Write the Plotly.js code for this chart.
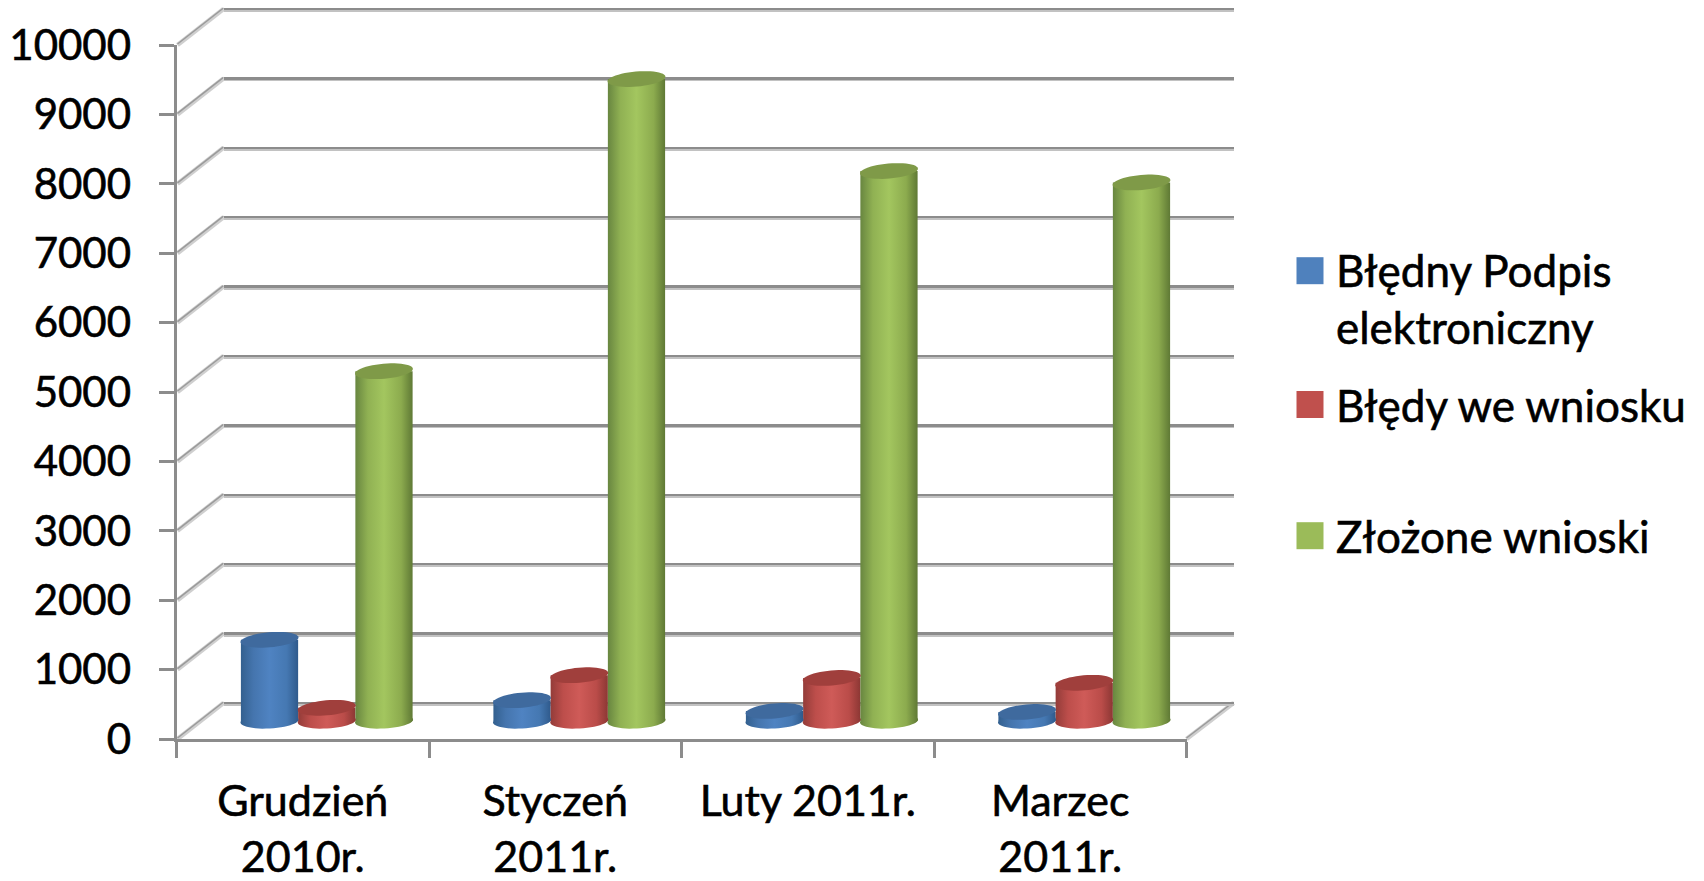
<!DOCTYPE html>
<html><head><meta charset="utf-8">
<script src="https://cdn.plot.ly/plotly-3.0.1.min.js"></script>
<style>html,body{margin:0;padding:0;background:#fff}#c{width:1704px;height:881px}
.xtick text,.ytick text,.legendtext{stroke:#000;stroke-width:0.6px}</style>
</head><body><div id="c"></div>
<script>
const categories = ['Grudzień<br>2010r.', 'Styczeń<br>2011r.', 'Luty 2011r.', 'Marzec<br>2011r.'];
const seriesNames = ['Błędny Podpis<br>elektroniczny', 'Błędy we wniosku', 'Złożone wnioski'];
const bledny = [1170, 300, 145, 130];
const bledy = [190, 660, 620, 550];
const zlozone = [5040, 9250, 7925, 7760];
const yTicks = [0,1000,2000,3000,4000,5000,6000,7000,8000,9000,10000];
const flatColors = ['#4f81bd', '#c0504d', '#9bbb59'];
const topColors = ['#3f6a9e', '#a03f3c', '#7f9a48'];
const gradients = [
  ['#33608f','#4575ae','#4f83c2','#4578b2','#2f5a8c'],
  ['#933c39','#bd4e4b','#cf5b58','#ba4c49','#8c3734'],
  ['#688640','#90b153','#a3c65f','#8cab4e','#5f7935']
];

const W = 1704, H = 881;
const fx0 = 176.5, fx1 = 1186.5, fy0 = 739, fy1 = 45;   // front plane
const dX = 47, dY = 36;                                  // depth of the box
const midX = 24, midY = 18;                              // depth of the cylinders
const px = x => x / W, py = y => (H - y) / H;
const perUnitY = (fy0 - fy1) / 10000, perUnitX = (fx1 - fx0) / categories.length;
const gap = 0.32, bw = (1 - gap) / 3;
const font = 'Lato, "Open Sans", sans-serif';
const series = [bledny, bledy, zlozone];
const pad = 100 * perUnitY;

const blank = (xa, ya, x) => ({x, y: x.map(() => 0), type: 'scatter', mode: 'none', showlegend: false, hoverinfo: 'skip', xaxis: xa, yaxis: ya});
const traces = [blank('x','y',categories), blank('x2','y2',[0,4]), blank('x3','y3',[0,4])];
series.forEach((vals, s) => traces.push({
  type: 'bar', name: seriesNames[s], x: categories.map((c, i) => i + 0.5), y: vals,
  xaxis: 'x4', yaxis: 'y4', marker: {color: flatColors[s], line: {width: 0}}, legendgroup: 'g' + s
}));

const shapes = [];
const line = (x0,y0,x1,y1,color,width) => shapes.push({type:'line',xref:'paper',yref:'paper',layer:'below',
  x0:px(x0),y0:py(y0),x1:px(x1),y1:py(y1),line:{color,width}});
yTicks.forEach(v => {
  const y = fy0 - v * perUnitY;
  line(fx0+1, y, fx0+dX, y-dY, '#cfcfcf', 4.5);
  line(fx0+1, y-1, fx0+dX, y-dY-1, '#9a9a9a', 1.5);
});
line(fx1, fy0, fx1+dX, fy0-dY, '#cfcfcf', 4.5);
line(fx1, fy0-1, fx1+dX, fy0-dY-1, '#9a9a9a', 1.5);

// elliptical ends of the cylinders, in the data units of the bar axes
function ellipse(cx, cy, tiltDeg) {
  const t = tiltDeg * Math.PI / 180;
  let d = '';
  for (let k = 0; k < 48; k++) {
    const u = k / 48 * 2 * Math.PI;
    const ex = Math.cos(u) * 29, ey = Math.sin(u) * 7.5;
    const rx = ex * Math.cos(t) - ey * Math.sin(t), ry = ex * Math.sin(t) + ey * Math.cos(t);
    d += (k ? 'L' : 'M') + (cx + rx / perUnitX).toFixed(4) + ',' + (cy + ry / perUnitY).toFixed(2);
  }
  return d + 'Z';
}
const ends = [];
series.forEach((vals, s) => vals.forEach((v, i) => {
  const cx = i + 0.5 + (s - 1) * bw;
  ends.push({idx: shapes.length, s});
  shapes.push({type:'path',xref:'x4',yref:'y4',layer:'above',path:ellipse(cx,0,3),fillcolor:flatColors[s],line:{width:0}});
  shapes.push({type:'path',xref:'x4',yref:'y4',layer:'above',path:ellipse(cx,v,5),fillcolor:topColors[s],line:{width:0}});
}));

const hiddenX = {range:[0,4],showgrid:false,zeroline:false,showticklabels:false,ticks:'',showline:false};
const layout = {
  width: W, height: H, margin: {l:0,r:0,t:0,b:0}, paper_bgcolor:'#fff', plot_bgcolor:'rgba(0,0,0,0)',
  showlegend: true, hovermode:false,
  barmode:'group', bargap:gap, bargroupgap:0,
  font:{family:font,color:'#000',size:44},
  xaxis:{type:'category',domain:[px(fx0),px(fx1)],anchor:'y',categoryorder:'array',categoryarray:categories,
    range:[-0.5,3.5],tickson:'boundaries',ticks:'outside',ticklen:16,tickwidth:3,tickcolor:'#8c8c8c',
    showline:true,linecolor:'#8c8c8c',linewidth:3,showgrid:false,zeroline:false,automargin:false,
    tickfont:{family:font,size:43,color:'#000'},ticklabelstandoff:22},
  yaxis:{domain:[py(fy0),py(fy1)],range:[0,10000],anchor:'x',tickmode:'array',tickvals:yTicks,ticktext:yTicks.map(String),
    ticks:'outside',ticklen:15,tickwidth:3,tickcolor:'#8c8c8c',showline:true,linecolor:'#8c8c8c',linewidth:3,
    showgrid:false,zeroline:false,automargin:false,tickfont:{family:font,size:42,color:'#000'},ticklabelstandoff:19},
  xaxis2:Object.assign({anchor:'y2',domain:[px(fx0+dX),px(fx1+dX)]},hiddenX),
  yaxis2:{anchor:'x2',domain:[py(fy0-dY+1.5+pad),py(fy1-dY+1.5-pad)],range:[-100,10100],tickmode:'array',tickvals:yTicks,
    showgrid:true,gridcolor:'#c2c2c2',gridwidth:3,zeroline:false,showticklabels:false,ticks:''},
  xaxis3:Object.assign({anchor:'y3',domain:[px(fx0+dX),px(fx1+dX)]},hiddenX),
  yaxis3:{anchor:'x3',domain:[py(fy0-dY+pad),py(fy1-dY-pad)],range:[-100,10100],tickmode:'array',tickvals:yTicks,
    showgrid:true,gridcolor:'#8c8c8c',gridwidth:2.5,zeroline:false,showticklabels:false,ticks:''},
  xaxis4:Object.assign({anchor:'y4',domain:[px(fx0+midX),px(fx1+midX)]},hiddenX),
  yaxis4:{anchor:'x4',domain:[py(fy0-midY+500*perUnitY),py(fy1-midY)],range:[-500,10000],showgrid:false,zeroline:false,showticklabels:false,ticks:''},
  legend:{x:px(1296),y:py(181),xanchor:'left',yanchor:'top',bgcolor:'rgba(0,0,0,0)',borderwidth:0,
    font:{family:font,size:44,color:'#000'},tracegroupgap:71,itemwidth:30,traceorder:'grouped',itemclick:false,itemdoubleclick:false},
  shapes
};

Plotly.newPlot('c', traces, layout, {displayModeBar:false, staticPlot:true}).then(gd => {
  const svg = gd.querySelector('svg.main-svg');
  const ns = 'http://www.w3.org/2000/svg';
  let defs = svg.querySelector('defs');
  gradients.forEach((stops, s) => {
    const g = document.createElementNS(ns, 'linearGradient');
    g.setAttribute('id', 'cyl' + s);
    g.setAttribute('x1', '0'); g.setAttribute('x2', '1'); g.setAttribute('y1', '0'); g.setAttribute('y2', '0');
    [0, .22, .5, .8, 1].forEach((o, k) => {
      const st = document.createElementNS(ns, 'stop');
      st.setAttribute('offset', o); st.setAttribute('stop-color', stops[k]); g.appendChild(st);
    });
    defs.appendChild(g);
  });
  gd.querySelectorAll('.barlayer .trace').forEach((t, s) => {
    t.querySelectorAll('.point path').forEach(p => { p.style.fill = 'url(#cyl' + s + ')'; });
  });
  ends.forEach(e => {
    const p = gd.querySelector('.layer-above .shapelayer path[data-index="' + e.idx + '"]');
    if (p) p.style.fill = 'url(#cyl' + e.s + ')';
  });
  // legend: larger square keys; the two-line entry is set lower and its key sits on its first line
  gd.querySelectorAll('.legend .legendpoints path').forEach((p, i) => {
    p.setAttribute('d', 'M13.5,13.5H-13.5V-13.5H13.5Z');
    p.setAttribute('transform', 'translate(14,' + (i === 0 ? -28 : 0) + ')');
  });
  const first = gd.querySelector('.legend .groups');
  if (first) first.setAttribute('transform', 'translate(0,54)');
});
</script>
</body></html>
